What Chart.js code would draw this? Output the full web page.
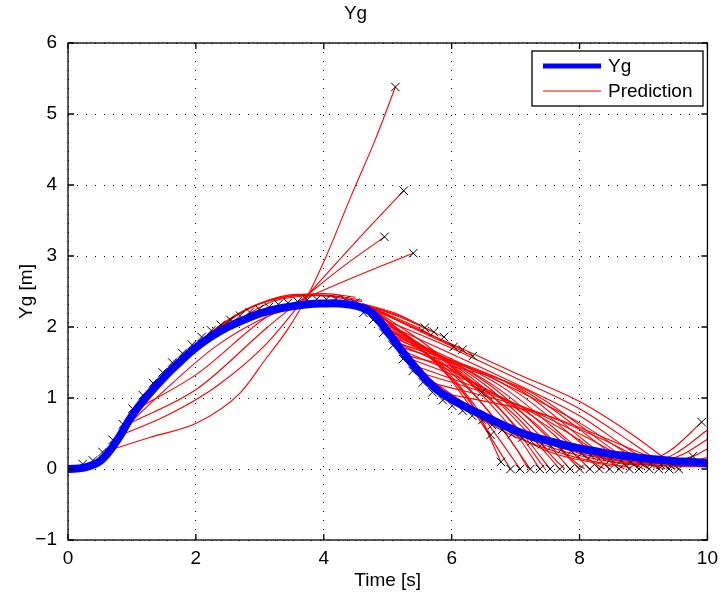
<!DOCTYPE html>
<html>
<head>
<meta charset="utf-8">
<script src="https://cdn.jsdelivr.net/npm/chart.js@4.4.1/dist/chart.umd.min.js"></script>
<style>
  html, body { margin: 0; padding: 0; background: #fff; }
  #wrap { width: 725px; height: 598px; }
</style>
</head>
<body>
<div id="wrap"><canvas id="chartYg" width="725" height="598"></canvas></div>
<script>
// Mesure Yg (axe du temps toutes les 0.25 s)
const ygTime = [0, 0.25, 0.5, 0.75, 1, 1.25, 1.5, 1.75, 2, 2.25, 2.5, 2.75, 3, 3.25, 3.5, 3.75, 4, 4.25, 4.5, 4.75,
                5, 5.25, 5.5, 5.75, 6, 6.25, 6.5, 6.75, 7, 7.25, 7.5, 7.75, 8, 8.25, 8.5, 8.75, 9, 9.25, 9.5, 9.75, 10];
const ygValues = [0, 0.02, 0.11, 0.38, 0.75, 1.04, 1.29, 1.51, 1.71, 1.87, 2.0, 2.1, 2.19, 2.25, 2.29, 2.32, 2.33, 2.33, 2.3, 2.2,
                  1.93, 1.63, 1.36, 1.13, 0.98, 0.86, 0.75, 0.64, 0.54, 0.46, 0.4, 0.34, 0.29, 0.25, 0.21, 0.18, 0.15, 0.13, 0.11, 0.1, 0.08];

// Predictions pendant la montee (longues, qui partent en l'air)
const predRise = [
  [[0.67, 0.27], [1.3, 0.45], [2.02, 0.65], [2.69, 1.07], [3.1, 1.56], [3.4, 1.92], [3.73, 2.41], [4.03, 2.98], [4.43, 3.85], [4.81, 4.65], [5.12, 5.38]],
  [[0.78, 0.46], [1.56, 0.76], [2.33, 1.17], [3.11, 1.77], [3.7, 2.4], [4.5, 3.2], [5.25, 3.92]],
  [[0.93, 0.63], [2.02, 1.13], [3.11, 1.99], [3.7, 2.42], [4.3, 2.85], [4.95, 3.27]],
  [[1.09, 0.85], [2.02, 1.34], [3.11, 2.14], [3.75, 2.42], [4.6, 2.75], [5.4, 3.04]]
];

// Predictions proches de la courbe autour du sommet
const predPeak = [
  [[0.8, 0.5], [1.5, 1.1], [2.3, 1.72], [3.0, 2.1], [3.6, 2.3], [4.0, 2.37]],
  [[1.0, 0.77], [1.6, 1.38], [2.3, 1.95], [3.0, 2.33], [3.6, 2.46], [4.1, 2.44]],
  [[1.2, 1.0], [1.8, 1.58], [2.5, 2.1], [3.2, 2.39], [3.8, 2.45], [4.3, 2.42]],
  [[1.5, 1.3], [2.2, 1.9], [2.9, 2.3], [3.5, 2.44], [4.0, 2.47], [4.5, 2.42]],
  [[2.0, 1.72], [2.7, 2.2], [3.4, 2.42], [4.0, 2.45], [4.6, 2.38]],
  [[2.5, 2.01], [3.2, 2.36], [3.9, 2.44], [4.6, 2.36]]
];

// Eventail au debut de la descente
const predFan = [
  [[4.6, 2.33], [5.1, 2.2], [5.58, 1.99]],
  [[4.62, 2.32], [5.2, 2.15], [5.72, 1.93]],
  [[4.65, 2.31], [5.3, 2.1], [5.88, 1.86]],
  [[4.68, 2.3], [5.4, 2.02], [6.03, 1.72]],
  [[4.7, 2.29], [5.45, 1.98], [6.17, 1.68]],
  [[4.72, 2.28], [5.55, 1.92], [6.33, 1.59]],
  [[4.72, 2.28], [5.6, 1.75], [6.47, 1.08]],
  [[4.75, 2.27], [5.7, 1.55], [6.2, 1.05], [6.61, 0.48]],
  [[4.78, 2.25], [5.8, 1.45], [6.4, 0.8], [6.77, 0.1]]
];

// Predictions qui finissent sur la rangee de croix a zero
const predRow = [
  [[4.8, 2.23], [5.9, 1.35], [6.5, 0.6], [6.92, 0]],
  [[4.82, 2.2], [6.0, 1.3], [6.6, 0.6], [7.07, 0]],
  [[4.85, 2.18], [6.1, 1.3], [6.8, 0.55], [7.23, 0]],
  [[4.88, 2.15], [6.2, 1.28], [7.0, 0.5], [7.38, 0]],
  [[4.9, 2.1], [6.3, 1.25], [7.1, 0.5], [7.54, 0]],
  [[4.92, 2.07], [6.4, 1.22], [7.2, 0.5], [7.69, 0]],
  [[4.95, 2.03], [6.5, 1.2], [7.4, 0.45], [7.85, 0]],
  [[4.98, 1.99], [6.6, 1.18], [7.5, 0.45], [8.0, 0]],
  [[5.0, 1.95], [6.7, 1.15], [7.7, 0.4], [8.16, 0]],
  [[5.05, 1.9], [6.8, 1.15], [7.8, 0.42], [8.31, 0]],
  [[5.1, 1.84], [6.9, 1.15], [8.0, 0.38], [8.47, 0]],
  [[5.15, 1.78], [7.0, 1.15], [8.1, 0.38], [8.62, 0]],
  [[5.2, 1.72], [7.1, 1.12], [8.3, 0.35], [8.78, 0]],
  [[5.3, 1.6], [7.2, 1.1], [8.4, 0.35], [8.93, 0]],
  [[5.0, 1.96], [6.0, 1.55], [7.0, 1.12], [8.0, 0.65], [9.09, 0]],
  [[4.95, 2.05], [6.0, 1.62], [7.0, 1.2], [8.0, 0.75], [8.7, 0.32], [9.24, 0]],
  [[4.9, 2.12], [6.0, 1.7], [7.0, 1.28], [8.0, 0.85], [8.8, 0.38], [9.4, 0]],
  [[4.85, 2.21], [6.0, 1.76], [7.0, 1.35], [8.0, 0.95], [8.8, 0.5], [9.55, 0]]
];

// Predictions qui partent de la pente de la courbe
const predSlope = [
  [[4.95, 2.0], [5.8, 1.5], [6.5, 0.9], [7.0, 0.3], [7.2, 0]],
  [[5.0, 1.92], [6.0, 1.4], [6.8, 0.8], [7.3, 0.2], [7.46, 0]],
  [[5.1, 1.8], [6.2, 1.3], [7.0, 0.75], [7.6, 0.15], [7.77, 0]],
  [[5.2, 1.68], [6.4, 1.2], [7.3, 0.65], [7.9, 0.12], [8.08, 0]],
  [[5.3, 1.57], [6.6, 1.1], [7.5, 0.6], [8.2, 0.1], [8.39, 0]],
  [[5.4, 1.46], [6.8, 1.0], [7.8, 0.52], [8.5, 0.1], [8.7, 0]],
  [[5.5, 1.36], [7.0, 0.92], [8.1, 0.45], [8.8, 0.1], [9.0, 0]],
  [[5.65, 1.22], [7.2, 0.85], [8.4, 0.4], [9.1, 0.08], [9.32, 0]],
  [[5.8, 1.08], [7.5, 0.75], [8.7, 0.32], [9.4, 0.05], [9.5, 0]]
];

// Fin de course : predictions sous la courbe et remontees a droite
const predTail = [
  [[5.6, 1.3], [6.5, 0.75], [7.5, 0.25], [8.5, 0.04]],
  [[6.0, 0.95], [7.0, 0.45], [8.0, 0.15], [8.8, 0.02]],
  [[6.5, 0.72], [7.5, 0.32], [8.5, 0.1], [9.5, 0.04], [10, 0.03]],
  [[7.0, 0.52], [8.0, 0.22], [9.0, 0.07], [10, 0.04]],
  [[7.5, 0.38], [8.5, 0.14], [9.5, 0.06], [10, 0.05]],
  [[8.0, 0.26], [8.8, 0.06], [9.4, 0.25], [9.91, 0.66]],
  [[8.2, 0.23], [9.0, 0.06], [9.5, 0.22], [10, 0.55]],
  [[8.4, 0.2], [9.1, 0.07], [9.6, 0.2], [10, 0.42]],
  [[8.6, 0.18], [9.3, 0.08], [9.7, 0.15], [10, 0.28]],
  [[8.8, 0.16], [9.4, 0.09], [9.77, 0.18]],
  [[9.0, 0.14], [9.6, 0.1], [10, 0.16]]
];

// Croix noires (fins de prediction)
const endMarks = [
  [0.23, 0.07], [0.39, 0.12], [0.54, 0.24], [0.70, 0.41], [0.86, 0.63], [1.01, 0.85], [1.17, 1.04], [1.33, 1.21],
  [1.48, 1.36], [1.63, 1.5], [1.79, 1.63], [1.94, 1.75], [2.09, 1.86], [2.24, 1.95], [2.39, 2.03], [2.54, 2.1],
  [2.69, 2.16], [2.84, 2.21], [2.99, 2.25], [3.14, 2.28], [3.29, 2.32], [3.44, 2.34], [3.59, 2.36], [3.74, 2.38],
  [3.89, 2.39], [4.04, 2.39], [4.19, 2.39], [4.34, 2.38], [4.49, 2.34],
  [4.62, 2.2], [4.77, 2.1], [4.93, 1.92], [5.08, 1.74], [5.24, 1.55], [5.39, 1.38], [5.55, 1.22], [5.70, 1.08],
  [5.86, 0.97], [6.01, 0.89], [6.17, 0.82], [6.32, 0.75],
  [6.48, 0.69], [6.63, 0.62], [6.79, 0.55], [6.94, 0.49], [7.1, 0.44], [7.25, 0.39], [7.41, 0.35], [7.56, 0.32],
  [7.72, 0.28], [7.87, 0.25], [8.03, 0.22], [8.18, 0.19], [8.34, 0.17], [8.49, 0.14], [8.65, 0.12], [8.8, 0.1],
  [8.96, 0.08], [9.11, 0.07], [9.27, 0.06], [9.42, 0.05],
  [5.12, 5.38], [5.25, 3.92], [4.95, 3.27], [5.4, 3.04],
  [5.58, 1.99], [5.72, 1.93], [5.88, 1.86], [6.03, 1.72], [6.17, 1.68], [6.33, 1.59],
  [6.47, 1.08], [6.61, 0.48], [6.77, 0.1],
  [6.92, 0], [7.07, 0], [7.23, 0], [7.38, 0], [7.54, 0], [7.69, 0], [7.85, 0], [8.0, 0], [8.16, 0],
  [8.31, 0], [8.47, 0], [8.62, 0], [8.78, 0], [8.93, 0], [9.09, 0], [9.24, 0], [9.40, 0], [9.55, 0],
  [9.77, 0.18], [9.91, 0.66]
];

const xTicks = [0, 2, 4, 6, 8, 10];
const yTicks = [-1, 0, 1, 2, 3, 4, 5, 6];

const FONT = 'Liberation Sans, Arial, Helvetica, sans-serif';
const FS = 19;

const toPoints = path => path.map(p => ({ x: p[0], y: p[1] }));

const datasets = [];

datasets.push({
  label: 'Yg',
  data: ygTime.map((t, i) => ({ x: t, y: ygValues[i] })),
  showLine: true,
  borderColor: '#0000ff',
  borderWidth: 8,
  pointRadius: 0,
  tension: 0.4,
  order: 0
});

datasets.push({
  label: 'marks',
  data: toPoints(endMarks),
  showLine: false,
  pointStyle: 'crossRot',
  pointRadius: 6,
  borderColor: '#000',
  borderWidth: 1,
  order: 1
});

[...predRise, ...predPeak, ...predFan, ...predRow, ...predSlope, ...predTail].forEach(path => {
  datasets.push({
    label: 'Prediction',
    data: toPoints(path),
    showLine: true,
    borderColor: '#ff0000',
    borderWidth: 1.1,
    pointRadius: 0,
    cubicInterpolationMode: 'monotone',
    order: 2
  });
});

// Cadre facon MATLAB : boite, petites graduations vers l'interieur, legende encadree
const matlabFrame = {
  id: 'matlabFrame',
  afterDraw(chart) {
    const { ctx, chartArea: a, scales } = chart;
    ctx.save();
    ctx.strokeStyle = '#000';
    ctx.lineWidth = 1.3;
    ctx.strokeRect(a.left, a.top, a.right - a.left, a.bottom - a.top);
    ctx.beginPath();
    xTicks.forEach(v => {
      const px = scales.x.getPixelForValue(v);
      ctx.moveTo(px, a.bottom); ctx.lineTo(px, a.bottom - 6);
      ctx.moveTo(px, a.top); ctx.lineTo(px, a.top + 6);
    });
    yTicks.forEach(v => {
      const py = scales.y.getPixelForValue(v);
      ctx.moveTo(a.left, py); ctx.lineTo(a.left + 6, py);
      ctx.moveTo(a.right, py); ctx.lineTo(a.right - 6, py);
    });
    ctx.stroke();

    // legende
    const bx = 532, by = 51, bw = 171, bh = 55;
    ctx.fillStyle = '#fff';
    ctx.fillRect(bx, by, bw, bh);
    ctx.lineWidth = 1.3;
    ctx.strokeRect(bx, by, bw, bh);
    ctx.lineWidth = 5;
    ctx.strokeStyle = '#0000ff';
    ctx.beginPath(); ctx.moveTo(543, 66); ctx.lineTo(601, 66); ctx.stroke();
    ctx.lineWidth = 1.1;
    ctx.strokeStyle = '#ff0000';
    ctx.beginPath(); ctx.moveTo(543, 91); ctx.lineTo(601, 91); ctx.stroke();
    ctx.fillStyle = '#000';
    ctx.font = FS + 'px ' + FONT;
    ctx.textBaseline = 'middle';
    ctx.textAlign = 'left';
    ctx.fillText('Yg', 608, 67);
    ctx.fillText('Prediction', 608, 92);
    ctx.restore();
  }
};

new Chart(document.getElementById('chartYg'), {
  type: 'scatter',
  data: { datasets },
  options: {
    responsive: false,
    animation: false,
    layout: { padding: { left: 0, right: 14, top: 0, bottom: 0 } },
    plugins: {
      legend: { display: false },
      tooltip: { enabled: false },
      title: {
        display: true,
        text: 'Yg',
        color: '#000',
        font: { family: FONT, size: FS, weight: 'normal' },
        padding: { top: 2.6, bottom: 17.6 }
      }
    },
    scales: {
      x: {
        type: 'linear',
        min: 0,
        max: 10,
        afterFit: s => { s.height = 58; },
        afterBuildTicks: s => { s.ticks = xTicks.map(v => ({ value: v })); },
        grid: { color: '#000', lineWidth: 1, drawTicks: false },
        border: { display: false, dash: [1, 8] },
        ticks: { color: '#000', padding: 7, font: { family: FONT, size: FS } },
        title: {
          display: true,
          text: 'Time [s]',
          color: '#000',
          font: { family: FONT, size: FS },
          padding: { top: 0, bottom: 5.6 }
        }
      },
      y: {
        type: 'linear',
        min: -1,
        max: 6,
        afterFit: s => { s.width = 68; },
        afterBuildTicks: s => { s.ticks = yTicks.map(v => ({ value: v })); },
        grid: { color: '#000', lineWidth: 1, drawTicks: false },
        border: { display: false, dash: [1, 8] },
        ticks: {
          color: '#000',
          padding: 11,
          font: { family: FONT, size: FS },
          callback: v => String(v).replace('-', '\u2212')
        },
        title: {
          display: true,
          text: 'Yg [m]',
          color: '#000',
          font: { family: FONT, size: FS },
          padding: { top: 15.6, bottom: 0 }
        }
      }
    }
  },
  plugins: [matlabFrame]
});
</script>
</body>
</html>
